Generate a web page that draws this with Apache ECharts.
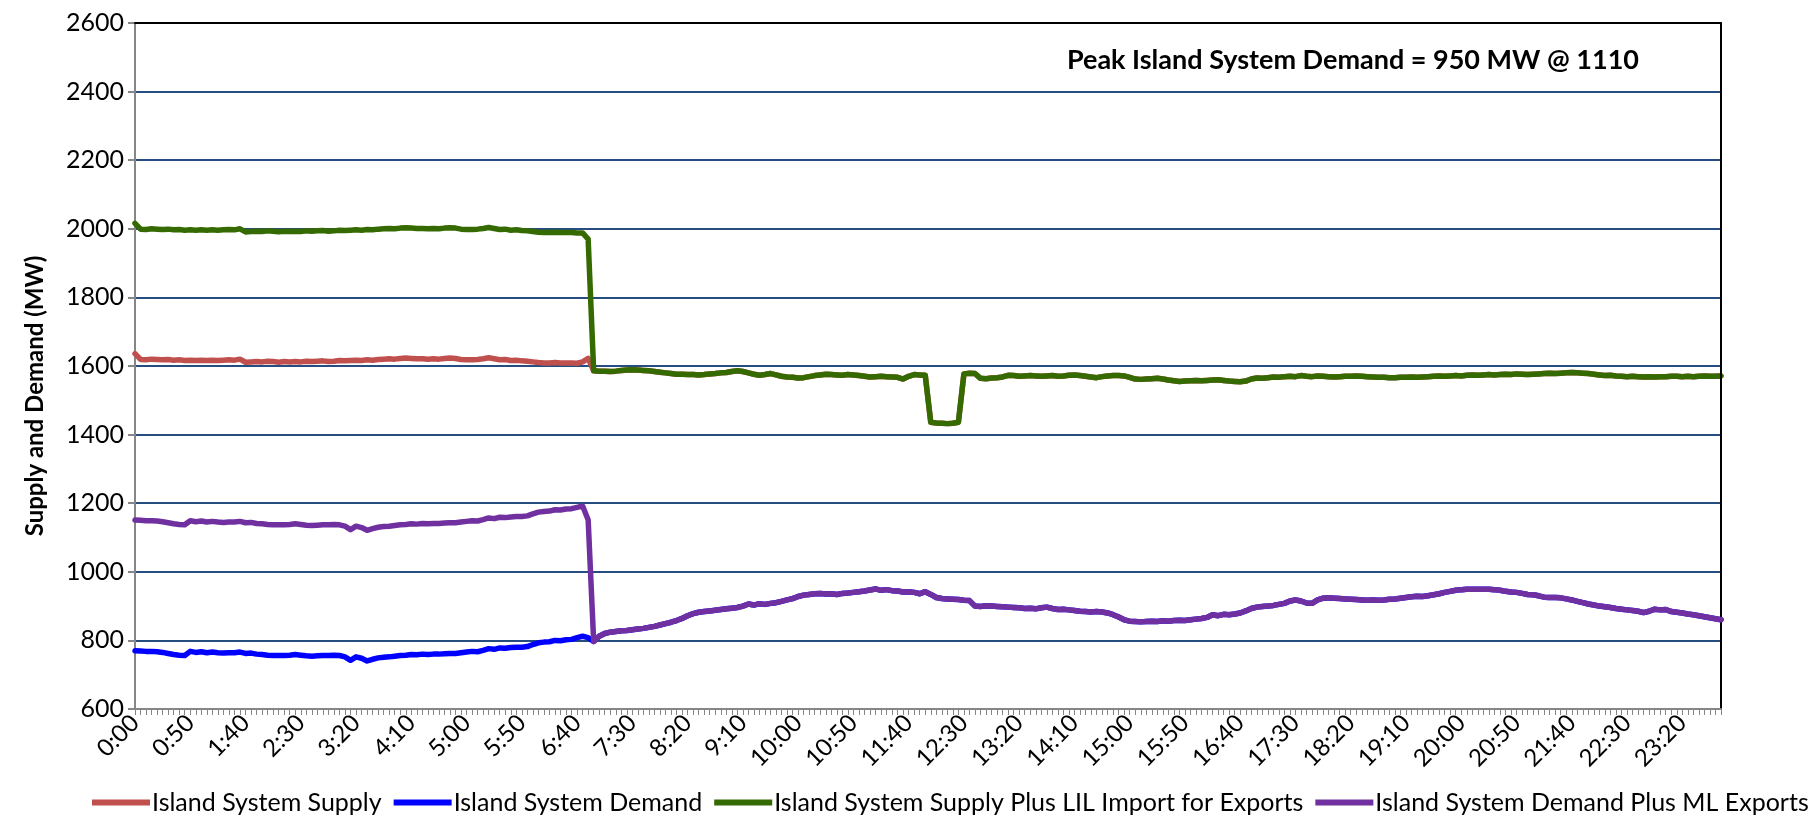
<!DOCTYPE html>
<html>
<head>
<meta charset="utf-8">
<script src="https://cdn.jsdelivr.net/npm/echarts@6/dist/echarts.min.js"></script>
<style>
html,body{margin:0;padding:0;background:#fff;}
#c{width:1820px;height:821px;}
</style>
</head>
<body>
<div id="c"></div>
<script>
// ---- Data (5-minute intervals, 0:00 .. 23:55) ----
const seriesNames = [
  'Island System Supply',
  'Island System Demand',
  'Island System Supply Plus LIL Import for Exports',
  'Island System Demand Plus ML Exports'
];
const yTicks = [600, 800, 1000, 1200, 1400, 1600, 1800, 2000, 2200, 2400, 2600];

// Island System Supply, 0:00-6:50
const supplyEarly = [
1636,1619,1618,1620,1619,1618,1619,1617,1618,1616,
1617,1616,1617,1616,1617,1616,1617,1618,1617,1620,
1611,1612,1613,1612,1614,1613,1611,1613,1612,1613,
1612,1614,1613,1614,1615,1613,1614,1616,1615,1616,
1617,1616,1618,1617,1619,1620,1621,1620,1622,1623,
1622,1621,1621,1620,1621,1620,1622,1623,1622,1619,
1618,1618,1619,1621,1624,1621,1618,1619,1616,1617,
1615,1614,1612,1610,1609,1609,1610,1609,1609,1609,
1608,1612,1622];
// Island System Supply, 6:55-23:55
const supplyLate = [
1586,1585,1585,1584,1585,1587,1588,1589,1588,1587,
1586,1584,1582,1580,1578,1576,1576,1575,1575,1574,
1575,1577,1578,1580,1581,1584,1586,1584,1580,1576,
1573,1575,1578,1574,1570,1568,1567,1565,1566,1569,
1572,1574,1576,1575,1574,1573,1575,1574,1572,1570,
1568,1569,1570,1569,1568,1567,1562,1570,1575,1574,
1573,1436,1434,1433,1432,1433,1436,1577,1579,1578,
1564,1563,1565,1566,1568,1573,1572,1570,1571,1572,
1571,1570,1571,1572,1570,1571,1573,1574,1572,1570,
1568,1566,1569,1571,1572,1572,1571,1567,1562,1561,
1562,1563,1564,1562,1559,1557,1555,1556,1557,1558,
1557,1558,1559,1560,1558,1556,1555,1554,1556,1562,
1565,1564,1566,1568,1567,1569,1570,1569,1572,1570,
1569,1571,1570,1569,1568,1569,1570,1570,1571,1570,
1569,1568,1567,1567,1566,1566,1567,1567,1568,1567,
1568,1569,1570,1571,1570,1571,1572,1571,1573,1574,
1573,1574,1575,1574,1575,1576,1575,1577,1576,1575,
1576,1577,1578,1579,1578,1579,1580,1581,1580,1579,
1578,1576,1574,1572,1573,1571,1570,1569,1570,1569,
1568,1569,1568,1569,1569,1570,1570,1569,1570,1569,
1570,1571,1570,1570,1571];

// Island System Demand, 0:00-6:50
const demandEarly = [
770,769,768,768,767,765,762,759,757,756,
768,765,767,764,766,764,763,764,764,766,
762,763,760,759,757,756,756,756,757,759,
757,755,754,755,756,756,757,756,752,742,
752,748,740,745,749,751,752,754,756,757,
759,758,760,759,760,760,761,762,762,764,
766,768,767,771,776,774,778,777,779,780,
780,782,788,793,795,796,800,799,802,803,
808,812,808];
// Island System Demand, 6:55-23:55
const demandLate = [
797,812,820,824,826,828,829,831,833,835,
838,841,845,849,853,858,864,872,878,882,
884,886,888,890,892,894,896,900,906,903,
907,905,908,910,914,918,922,928,932,934,
936,937,935,936,934,937,938,940,942,944,
947,950,946,948,945,944,941,942,940,936,
942,934,925,922,921,920,919,917,916,900,
899,901,900,899,898,897,896,895,893,894,
892,895,897,893,890,891,889,887,885,884,
883,884,883,880,875,868,860,856,855,854,
855,856,855,857,856,858,859,858,860,862,
864,867,875,872,876,875,877,880,886,893,
897,899,900,902,905,908,915,918,915,909,
908,918,923,924,923,922,921,920,919,918,
917,918,917,918,920,921,923,925,927,929,
928,930,933,936,940,943,946,948,949,949,
949,949,949,948,946,943,941,940,937,934,
933,930,926,925,925,924,921,918,914,910,
906,903,900,898,896,893,891,889,887,885,
881,885,891,889,890,884,882,880,877,875,
872,869,866,863,860];

// Island System Supply Plus LIL Import for Exports, 0:00-6:50
const supplyLilEarly = [
2016,1999,1998,2000,1999,1998,1999,1997,1998,1996,
1997,1996,1997,1996,1997,1996,1997,1998,1997,2000,
1991,1992,1993,1992,1994,1993,1991,1993,1992,1993,
1992,1994,1993,1994,1995,1993,1994,1996,1995,1996,
1997,1996,1998,1997,1999,2000,2001,2000,2002,2003,
2002,2001,2001,2000,2001,2000,2002,2003,2002,1999,
1998,1998,1999,2001,2004,2001,1998,1999,1996,1997,
1995,1994,1992,1990,1989,1989,1990,1989,1989,1989,
1988,1988,1970];
// Island System Supply Plus LIL Import for Exports, 6:55-23:55
const supplyLilLate = [
1586,1585,1585,1584,1585,1587,1588,1589,1588,1587,
1586,1584,1582,1580,1578,1576,1576,1575,1575,1574,
1575,1577,1578,1580,1581,1584,1586,1584,1580,1576,
1573,1575,1578,1574,1570,1568,1567,1565,1566,1569,
1572,1574,1576,1575,1574,1573,1575,1574,1572,1570,
1568,1569,1570,1569,1568,1567,1562,1570,1575,1574,
1573,1436,1434,1433,1432,1433,1436,1577,1579,1578,
1564,1563,1565,1566,1568,1573,1572,1570,1571,1572,
1571,1570,1571,1572,1570,1571,1573,1574,1572,1570,
1568,1566,1569,1571,1572,1572,1571,1567,1562,1561,
1562,1563,1564,1562,1559,1557,1555,1556,1557,1558,
1557,1558,1559,1560,1558,1556,1555,1554,1556,1562,
1565,1564,1566,1568,1567,1569,1570,1569,1572,1570,
1569,1571,1570,1569,1568,1569,1570,1570,1571,1570,
1569,1568,1567,1567,1566,1566,1567,1567,1568,1567,
1568,1569,1570,1571,1570,1571,1572,1571,1573,1574,
1573,1574,1575,1574,1575,1576,1575,1577,1576,1575,
1576,1577,1578,1579,1578,1579,1580,1581,1580,1579,
1578,1576,1574,1572,1573,1571,1570,1569,1570,1569,
1568,1569,1568,1569,1569,1570,1570,1569,1570,1569,
1570,1571,1570,1570,1571];

// Island System Demand Plus ML Exports, 0:00-6:50
const demandMlEarly = [
1151,1150,1149,1149,1148,1146,1143,1140,1138,1137,
1149,1146,1148,1145,1147,1145,1144,1145,1145,1147,
1143,1144,1141,1140,1138,1137,1137,1137,1138,1140,
1138,1136,1135,1136,1137,1137,1138,1137,1133,1123,
1133,1129,1121,1126,1130,1132,1133,1135,1137,1138,
1140,1139,1141,1140,1141,1141,1142,1143,1143,1145,
1147,1149,1148,1152,1157,1155,1159,1158,1160,1161,
1161,1163,1169,1174,1176,1177,1181,1180,1183,1184,
1188,1192,1152];
// Island System Demand Plus ML Exports, 6:55-23:55
const demandMlLate = [
797,812,820,824,826,828,829,831,833,835,
838,841,845,849,853,858,864,872,878,882,
884,886,888,890,892,894,896,900,906,903,
907,905,908,910,914,918,922,928,932,934,
936,937,935,936,934,937,938,940,942,944,
947,950,946,948,945,944,941,942,940,936,
942,934,925,922,921,920,919,917,916,900,
899,901,900,899,898,897,896,895,893,894,
892,895,897,893,890,891,889,887,885,884,
883,884,883,880,875,868,860,856,855,854,
855,856,855,857,856,858,859,858,860,862,
864,867,875,872,876,875,877,880,886,893,
897,899,900,902,905,908,915,918,915,909,
908,918,923,924,923,922,921,920,919,918,
917,918,917,918,920,921,923,925,927,929,
928,930,933,936,940,943,946,948,949,949,
949,949,949,948,946,943,941,940,937,934,
933,930,926,925,925,924,921,918,914,910,
906,903,900,898,896,893,891,889,887,885,
881,885,891,889,890,884,882,880,877,875,
872,869,866,863,860];

const annotationText = 'Peak Island System Demand = 950 MW @ 1110';
const yAxisTitle = 'Supply and Demand (MW)';

// Category labels h:mm, every 5 minutes
const times = [];
for (let h = 0; h < 24; h++) {
  for (let m = 0; m < 60; m += 5) {
    times.push(h + ':' + (m < 10 ? '0' + m : m));
  }
}

const colors = ['#C0504D', '#0000FF', '#356A00', '#7030A0'];
const seriesData = [
  supplyEarly.concat(supplyLate),
  demandEarly.concat(demandLate),
  supplyLilEarly.concat(supplyLilLate),
  demandMlEarly.concat(demandMlLate)
];

const FONT = 'Lato, Carlito, "Liberation Sans", sans-serif';
const chart = echarts.init(document.getElementById('c'));
chart.setOption({
  animation: false,
  backgroundColor: '#fff',
  color: colors,
  grid: { left: 135, right: 99, top: 23, bottom: 112, containLabel: false },
  legend: {
    left: 92, top: 790, padding: 0,
    icon: 'rect', itemWidth: 58, itemHeight: 6, itemGap: 12,
    textStyle: { fontFamily: FONT, fontSize: 25, color: '#000', padding: [0, 0, 0, -3] },
    data: seriesNames
  },
  xAxis: [{
    type: 'category', data: times, boundaryGap: false,
    axisLine: { lineStyle: { color: '#868686', width: 2 } },
    axisTick: { show: true, interval: 0, length: 6, lineStyle: { color: '#868686', width: 1 } },
    axisLabel: { interval: 9, rotate: 45, fontFamily: FONT, fontSize: 24, color: '#000', margin: 10 },
    splitLine: { show: false }, z: 5
  }, {
    type: 'category', data: times, boundaryGap: false, position: 'top',
    axisLine: { show: true, lineStyle: { color: '#000', width: 2 } },
    axisTick: { show: false }, axisLabel: { show: false }, splitLine: { show: false }, z: 5
  }],
  yAxis: [{
    type: 'value', min: yTicks[0], max: yTicks[yTicks.length - 1], interval: 200,
    axisLine: { show: true, lineStyle: { color: '#868686', width: 2 } },
    axisTick: { show: true, length: 7, lineStyle: { color: '#868686', width: 2 } },
    axisLabel: { fontFamily: FONT, fontSize: 25, color: '#000', margin: 11, formatter: v => String(v) },
    splitLine: { show: true, lineStyle: { color: '#264D7F', width: 2 } }
  }, {
    type: 'value', position: 'right', min: yTicks[0], max: yTicks[yTicks.length - 1], interval: 200,
    axisLine: { show: true, lineStyle: { color: '#000', width: 2 } },
    axisTick: { show: false }, axisLabel: { show: false }, splitLine: { show: false }, z: 5
  }],
  graphic: [{
    type: 'text', x: 1639, y: 60,
    style: { text: annotationText, font: 'bold 27px ' + FONT, fill: '#000', textAlign: 'right', textVerticalAlign: 'middle' }
  }, {
    type: 'text', x: 35, y: 396, rotation: Math.PI / 2,
    style: { text: yAxisTitle, font: 'bold 24px ' + FONT, fill: '#000', textAlign: 'center', textVerticalAlign: 'middle' }
  }],
  series: seriesNames.map((n, i) => ({
    name: n, type: 'line', data: seriesData[i], showSymbol: false, symbol: 'none',
    lineStyle: { width: 5.5, color: colors[i], join: 'round', cap: 'round' },
    itemStyle: { color: colors[i] }, z: 2 + i
  }))
});
</script>
</body>
</html>
